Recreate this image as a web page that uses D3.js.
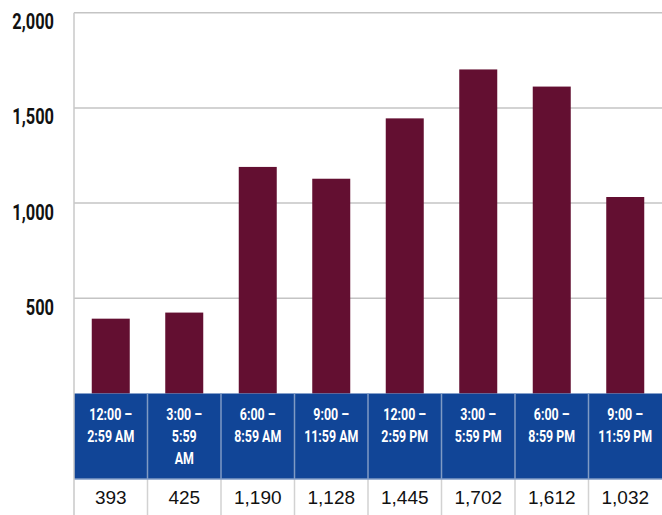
<!doctype html>
<html lang="en">
  <head>
    <meta charset="utf-8">
    <title>Crashes by time of day</title>
    <script src="https://d3js.org/d3.v7.min.js"></script>
    <style>
      body { margin: 0; background: #fff; }
      svg { display: block; }
    </style>
  </head>
  <body>
    <div id="chart"></div>
    <script>
      // data
      const categories = [
        "12:00 –|2:59 AM", "3:00 –|5:59|AM", "6:00 –|8:59 AM", "9:00 –|11:59 AM",
        "12:00 –|2:59 PM", "3:00 –|5:59 PM", "6:00 –|8:59 PM", "9:00 –|11:59 PM"
      ];
      const values = [393, 425, 1190, 1128, 1445, 1702, 1612, 1032];
      const yTicks = [500, 1000, 1500, 2000];

      const W = 662, H = 515;
      const left = 74, right = 662;
      const zeroY = 393.5, topY = 12.7;
      const headBottom = 479;
      const squeeze = 0.73;   // condensed look for the bold labels

      const svg = d3.select("#chart").append("svg")
        .attr("width", W).attr("height", H);

      const x = d3.scaleBand()
        .domain(d3.range(categories.length))
        .range([left, right]);

      const y = d3.scaleLinear()
        .domain([0, 2000])
        .range([zeroY, topY]);

      // gridlines
      svg.append("g")
        .selectAll("line")
        .data(yTicks)
        .join("line")
          .attr("x1", left).attr("x2", right)
          .attr("y1", d => y(d)).attr("y2", d => y(d))
          .attr("stroke", "#c4c4c4").attr("stroke-width", 1.5);

      // y labels (hanging below the gridline)
      svg.append("g")
        .selectAll("text")
        .data(yTicks)
        .join("text")
          .attr("transform", d => `translate(54,${y(d) + 16.5}) scale(${squeeze},1)`)
          .attr("text-anchor", "end")
          .attr("font-family", "Roboto, sans-serif")
          .attr("font-weight", "bold")
          .attr("font-size", "22.5px")
          .attr("fill", "#111")
          .text(d => d3.format(",")(d));

      // bars
      const barW = 38;
      svg.append("g")
        .selectAll("rect")
        .data(values)
        .join("rect")
          .attr("x", (d, i) => x(i) + x.bandwidth() / 2 - barW / 2)
          .attr("y", d => y(d))
          .attr("width", barW)
          .attr("height", d => zeroY - y(d))
          .attr("fill", "#630f31");

      // header band
      svg.append("rect")
        .attr("x", left).attr("y", zeroY)
        .attr("width", right - left).attr("height", headBottom - zeroY)
        .attr("fill", "#114597");

      // column separators
      const seps = d3.range(1, categories.length).map(i => x(i));
      svg.append("g")
        .selectAll("line")
        .data(seps)
        .join("line")
          .attr("x1", d => d).attr("x2", d => d)
          .attr("y1", zeroY).attr("y2", headBottom)
          .attr("stroke", "#7f9ac4").attr("stroke-width", 1.5);
      svg.append("g")
        .selectAll("line")
        .data(seps)
        .join("line")
          .attr("x1", d => d).attr("x2", d => d)
          .attr("y1", headBottom).attr("y2", H)
          .attr("stroke", "#d2d2d2").attr("stroke-width", 1.5);
      svg.append("line")
        .attr("x1", left).attr("x2", right)
        .attr("y1", headBottom).attr("y2", headBottom)
        .attr("stroke", "#7f9ac4").attr("stroke-width", 1.5);

      // left border
      svg.append("line")
        .attr("x1", left).attr("x2", left)
        .attr("y1", topY).attr("y2", H)
        .attr("stroke", "#c8c8c8").attr("stroke-width", 1.5);

      // header labels
      const heads = svg.append("g")
        .selectAll("text")
        .data(categories)
        .join("text")
          .attr("transform", (d, i) => `translate(${x(i) + x.bandwidth() / 2},420) scale(${squeeze},1)`)
          .attr("text-anchor", "middle")
          .attr("font-family", "Roboto, sans-serif")
          .attr("font-weight", "bold")
          .attr("font-size", "17px")
          .attr("fill", "#fff");
      heads.selectAll("tspan")
        .data(d => d.split("|"))
        .join("tspan")
          .attr("x", 0)
          .attr("dy", (d, i) => i === 0 ? 0 : 22)
          .text(d => d);

      // value row
      svg.append("g")
        .selectAll("text")
        .data(values)
        .join("text")
          .attr("x", (d, i) => x(i) + x.bandwidth() / 2)
          .attr("y", 504)
          .attr("text-anchor", "middle")
          .attr("font-family", "'Liberation Sans', Arial, sans-serif")
          .attr("font-size", "19px")
          .attr("fill", "#111")
          .text(d => d3.format(",")(d));
    </script>
  </body>
</html>
